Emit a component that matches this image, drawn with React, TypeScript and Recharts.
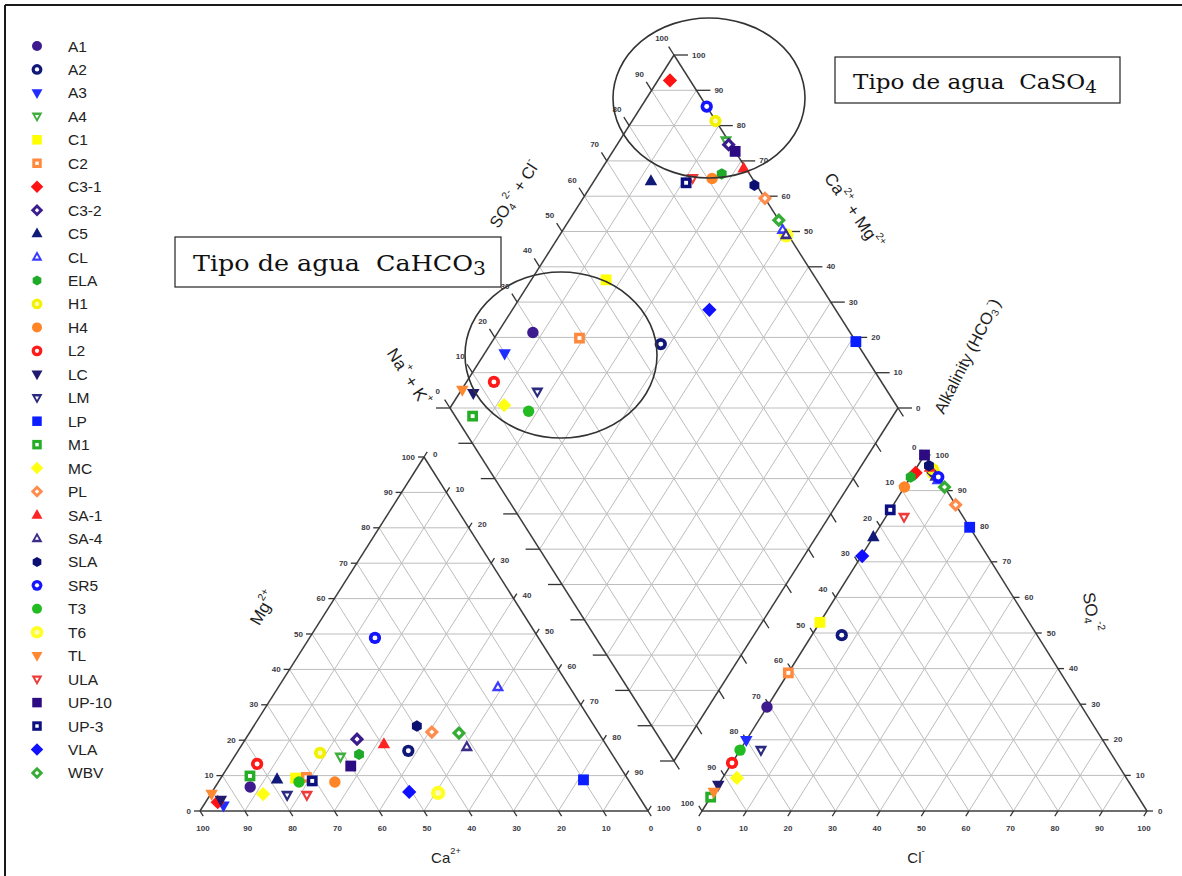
import React from "react";
import { ReferenceLine, Scatter, ScatterChart, XAxis, YAxis } from "recharts";

const WIDTH = 1182;
const HEIGHT = 876;

// samples, in legend order
const sampleNames = [
  "A1", "A2", "A3", "A4", "C1", "C2", "C3-1", "C3-2", "C5", "CL", "ELA", "H1", "H4", "L2", "LC", "LM",
  "LP", "M1", "MC", "PL", "SA-1", "SA-4", "SLA", "SR5", "T3", "T6", "TL", "ULA", "UP-10", "UP-3", "VLA", "WBV"
];
const sampleColors = [
  "#3d1a8e", "#10197a", "#1f2dff", "#3fae3f", "#ffff00", "#ff8a3d", "#ff1212", "#3a1c8c", "#101a78", "#3b3bff",
  "#1faa2a", "#f2f200", "#ff8526", "#ff1a1a", "#201a6e", "#2a2a7e", "#0a1eff", "#25ad25", "#ffff14", "#ff8c4a",
  "#ff2424", "#3b2d8a", "#0b0f72", "#1414ff", "#22bb22", "#ffff22", "#ff8833", "#ee3a3a", "#2d0b82", "#0c0f80",
  "#1010ff", "#35ad35"
];
const sampleMarkers = [
  "circle", "ring", "tri-down", "open-tri-down", "square", "open-square", "diamond", "open-diamond", "tri-up",
  "open-tri-up", "hex", "ring", "circle", "ring", "tri-down", "open-tri-down", "square", "open-square", "diamond",
  "open-diamond", "tri-up", "open-tri-up", "hex", "ring", "circle", "big-ring", "tri-down", "open-tri-down",
  "square", "open-square", "diamond", "open-diamond"
];

// % meq/L
const caPct = [
  85.4, 45, 94, 61, 74, 71.5, 94.8, 54.8, 78.3, 16, 56.5, 65, 65.8, 80.6, 93.8, 78.3,
  10, 83.9, 83.5, 37.1, 49.5, 31.4, 39.6, 36.5, 73.8, 44.3, 95, 73.9, 60, 70.7, 50.6, 31.2
];
const mgPct = [
  6.8, 17, 1.5, 15.3, 9.3, 9.5, 2.5, 20.3, 9, 35, 16, 16.4, 8.2, 13.3, 3.1, 4.5,
  8.8, 9.9, 4.8, 22.3, 18.9, 18.1, 24, 48.9, 8.2, 5.1, 4.8, 4.5, 12.7, 8.5, 5.4, 22
];
const clPct = [
  0, 6.7, 0, 3.5, 0, 0, 0.5, 4.5, 0, 6.5, 0, 3.9, 0, 0, 0, 4.7,
  20.3, 0, 3.2, 14, 3, 5.5, 2.5, 6.2, 0, 4.5, 0, 4.1, 0, 0, 0.2, 9
];
const so4Pct = [
  29.2, 49.4, 19.9, 96, 53, 38.8, 95, 95, 77, 93, 93.8, 96, 91, 13.5, 7.3, 17.1,
  79.7, 3.9, 9.3, 86, 96.5, 94, 97, 93.8, 17.1, 95, 5.3, 82.6, 100, 84.6, 71.6, 91
];
// T6 sits under the other marks in the original plot, so it is painted first
const paintFirst = ["T6"];

const axisTicks = [0, 10, 20, 30, 40, 50, 60, 70, 80, 90, 100];
const gridSteps = [10, 20, 30, 40, 50, 60, 70, 80, 90];

type XY = { x: number; y: number };
type Tri = { a: XY; b: XY; c: XY };

// a = bottom-left corner, b = bottom-right corner, c = top corner
const cationTri: Tri = { a: { x: 200, y: 811 }, b: { x: 648, y: 811 }, c: { x: 424, y: 457 } };
const anionTri: Tri = { a: { x: 702, y: 811 }, b: { x: 1147, y: 811 }, c: { x: 924.5, y: 455 } };
const rhomb = { top: { x: 674, y: 55 }, left: { x: 450, y: 408 }, right: { x: 898, y: 408 }, bottom: { x: 674, y: 761 } };

function bary(t: Tri, wa: number, wb: number, wc: number): XY {
  return {
    x: (wa * t.a.x + wb * t.b.x + wc * t.c.x) / 100,
    y: (wa * t.a.y + wb * t.b.y + wc * t.c.y) / 100
  };
}
const cationXY = (ca: number, mg: number) => bary(cationTri, ca, 100 - ca - mg, mg);
const anionXY = (cl: number, so4: number) => bary(anionTri, 100 - cl - so4, cl, so4);
function rhombXY(caMg: number, so4Cl: number): XY {
  const { bottom, left, right } = rhomb;
  return {
    x: bottom.x + (caMg / 100) * (left.x - bottom.x) + (so4Cl / 100) * (right.x - bottom.x),
    y: bottom.y + (caMg / 100) * (left.y - bottom.y) + (so4Cl / 100) * (right.y - bottom.y)
  };
}
function unit(p: XY, q: XY): XY {
  const dx = q.x - p.x;
  const dy = q.y - p.y;
  const l = Math.hypot(dx, dy);
  return { x: dx / l, y: dy / l };
}
const shift = (p: XY, d: XY, len: number): XY => ({ x: p.x + d.x * len, y: p.y + d.y * len });

type Seg = { p: XY; q: XY; role: "edge" | "grid" | "tick" | "frame" };
type TickLabel = { x: number; y: number; label: string; anchor: "start" | "middle" | "end" };

const segments: Seg[] = [];
const tickLabels: TickLabel[] = [];

function addTriangle(t: Tri) {
  gridSteps.forEach((f) => {
    segments.push({ p: bary(t, 100 - f, 0, f), q: bary(t, 0, 100 - f, f), role: "grid" });
    segments.push({ p: bary(t, f, 100 - f, 0), q: bary(t, f, 0, 100 - f), role: "grid" });
    segments.push({ p: bary(t, 100 - f, f, 0), q: bary(t, 0, f, 100 - f), role: "grid" });
  });
  segments.push({ p: t.a, q: t.b, role: "edge" }, { p: t.b, q: t.c, role: "edge" }, { p: t.c, q: t.a, role: "edge" });
}
addTriangle(cationTri);
addTriangle(anionTri);

// cation axes
const catUpRight = unit(cationTri.a, cationTri.c);
const catDownRight = unit(cationTri.c, cationTri.b);
axisTicks.forEach((v) => {
  const pm = bary(cationTri, 100 - v, 0, v);
  segments.push({ p: pm, q: { x: pm.x - 6, y: pm.y }, role: "tick" });
  tickLabels.push({ x: pm.x - 9, y: pm.y, label: String(v), anchor: "end" });
  const pc = bary(cationTri, v, 100 - v, 0);
  segments.push({ p: pc, q: shift(pc, catDownRight, 6), role: "tick" });
  tickLabels.push({ x: pc.x + 3, y: pc.y + 17, label: String(v), anchor: "middle" });
  const pn = bary(cationTri, 0, v, 100 - v);
  segments.push({ p: pn, q: shift(pn, catUpRight, 6), role: "tick" });
  tickLabels.push({ x: pn.x + 9, y: pn.y - 3, label: String(v), anchor: "start" });
});

// anion axes
const anUpLeft = unit(anionTri.b, anionTri.c);
const anDownLeft = unit(anionTri.c, anionTri.a);
axisTicks.forEach((v) => {
  const ph = bary(anionTri, v, 0, 100 - v);
  segments.push({ p: ph, q: shift(ph, anUpLeft, 6), role: "tick" });
  tickLabels.push({ x: ph.x - 8, y: ph.y - 8, label: String(v), anchor: "end" });
  const ps = bary(anionTri, 0, 100 - v, v);
  segments.push({ p: ps, q: { x: ps.x + 6, y: ps.y }, role: "tick" });
  tickLabels.push({ x: ps.x + 11, y: ps.y, label: String(v), anchor: "start" });
  const pcl = bary(anionTri, 100 - v, v, 0);
  segments.push({ p: pcl, q: shift(pcl, anDownLeft, 6), role: "tick" });
  tickLabels.push({ x: pcl.x - 3, y: pcl.y + 17, label: String(v), anchor: "middle" });
});

// diamond
const rhUpLeft = unit(rhomb.bottom, rhomb.left);
const rhDownRight = { x: -rhUpLeft.x, y: -rhUpLeft.y };
gridSteps.forEach((f) => {
  segments.push({ p: rhombXY(f, 0), q: rhombXY(f, 100), role: "grid" });
  segments.push({ p: rhombXY(0, f), q: rhombXY(100, f), role: "grid" });
});
for (let k = 1; k < 20; k++) {
  const level = k * 10;
  if (level <= 100) segments.push({ p: rhombXY(level, 0), q: rhombXY(0, level), role: "grid" });
  else segments.push({ p: rhombXY(100, level - 100), q: rhombXY(level - 100, 100), role: "grid" });
}
segments.push(
  { p: rhomb.top, q: rhomb.left, role: "edge" },
  { p: rhomb.left, q: rhomb.bottom, role: "edge" },
  { p: rhomb.bottom, q: rhomb.right, role: "edge" },
  { p: rhomb.right, q: rhomb.top, role: "edge" }
);
axisTicks.forEach((v) => {
  const pl = rhombXY(100, v);
  segments.push({ p: pl, q: shift(pl, rhUpLeft, 10), role: "tick" });
  const lp = shift(pl, rhUpLeft, 19);
  tickLabels.push({ x: lp.x - 2, y: lp.y, label: String(v), anchor: "middle" });
  const pr = rhombXY(v, 100);
  segments.push({ p: pr, q: { x: pr.x + 14, y: pr.y }, role: "tick" });
  tickLabels.push({ x: pr.x + 18, y: pr.y, label: String(v), anchor: "start" });
  const pb = rhombXY(v, 0);
  segments.push({ p: pb, q: { x: pb.x - 14, y: pb.y }, role: "tick" });
  const pd = rhombXY(0, v);
  segments.push({ p: pd, q: shift(pd, rhDownRight, 10), role: "tick" });
});

// frame of the figure
segments.push(
  { p: { x: 5, y: 5 }, q: { x: WIDTH, y: 5 }, role: "frame" },
  { p: { x: 5, y: 5 }, q: { x: 5, y: HEIGHT }, role: "frame" }
);

const lineStyle = {
  grid: { stroke: "#bdbdbd", width: 1 },
  edge: { stroke: "#3c3c3c", width: 1.5 },
  tick: { stroke: "#333", width: 1.3 },
  frame: { stroke: "#1a1a1a", width: 2 }
};

type Part = [string, "" | "sup" | "sub"];
type Title = { x: number; y: number; rotate: number; size: number; parts: Part[] };
const axisTitles: Title[] = [
  { x: 263, y: 608, rotate: -60, size: 17, parts: [["Mg", ""], ["2+", "sup"]] },
  { x: 446, y: 857, rotate: 0, size: 15, parts: [["Ca", ""], ["2+", "sup"]] },
  { x: 916, y: 857, rotate: 0, size: 15, parts: [["Cl", ""], ["-", "sup"]] },
  { x: 1092, y: 612, rotate: 80, size: 17, parts: [["SO", ""], ["4", "sub"], ["-2", "sup"]] },
  { x: 514, y: 194, rotate: -57, size: 16.5, parts: [["SO", ""], ["4", "sub"], ["2-", "sup"], [" + Cl", ""], ["-", "sup"]] },
  { x: 854, y: 211, rotate: 55, size: 17, parts: [["Ca", ""], ["2+", "sup"], [" + Mg", ""], ["2+", "sup"]] },
  { x: 409, y: 377, rotate: 57, size: 17, parts: [["Na", ""], ["+", "sup"], [" + K", ""], ["+", "sup"]] },
  { x: 967, y: 356, rotate: -63, size: 16.5, parts: [["Alkalinity (HCO", ""], ["3", "sub"], ["-", "sup"], [")", ""]] }
];

const noteBoxes = [
  { x: 835, y: 57, w: 285, h: 46, tx: 853, ty: 89, size: 21, len: 244, formula: "CaSO", sub: "4" },
  { x: 175, y: 237, w: 326, h: 50, tx: 193, ty: 271, size: 22, len: 293, formula: "CaHCO", sub: "3" }
];
const typeRings = [
  { x: 709, y: 98, rx: 96, ry: 80 },
  { x: 561, y: 355, rx: 96, ry: 83 }
];

const samplePoints = sampleNames.map((name, i) => [
  { ...cationXY(caPct[i], mgPct[i]), name },
  { ...anionXY(clPct[i], so4Pct[i]), name },
  { ...rhombXY(caPct[i] + mgPct[i], clPct[i] + so4Pct[i]), name }
]);
const paintOrder = [
  ...sampleNames.map((_, i) => i).filter((i) => paintFirst.includes(sampleNames[i])),
  ...sampleNames.map((_, i) => i).filter((i) => !paintFirst.includes(sampleNames[i]))
];
const legendRows = sampleNames.map((name, i) => ({ x: 37, y: 46 + i * 23.45, name, i }));

function glyphPath(kind: string, r: number): string {
  if (kind === "tri-up") return `M0 ${-1.2 * r}L${1.1 * r} ${0.75 * r}L${-1.1 * r} ${0.75 * r}Z`;
  if (kind === "tri-down") return `M0 ${1.2 * r}L${1.1 * r} ${-0.75 * r}L${-1.1 * r} ${-0.75 * r}Z`;
  if (kind === "square") {
    const h = 0.95 * r;
    return `M${-h} ${-h}H${h}V${h}H${-h}Z`;
  }
  if (kind === "diamond") {
    const h = 1.25 * r;
    return `M0 ${-h}L${h} 0L0 ${h}L${-h} 0Z`;
  }
  if (kind === "hex") {
    const pts = [0, 1, 2, 3, 4, 5].map((k) => {
      const ang = (Math.PI / 3) * k + Math.PI / 6;
      return `${(r * Math.cos(ang)).toFixed(2)} ${(r * Math.sin(ang)).toFixed(2)}`;
    });
    return `M${pts.join("L")}Z`;
  }
  return `M${-r} 0A${r} ${r} 0 1 0 ${r} 0A${r} ${r} 0 1 0 ${-r} 0Z`;
}

const paleCentre = ["#ffff00", "#f2f200", "#ffff22", "#ffff14"];

function Glyph({ x, y, kind, color, r }: { x: number; y: number; kind: string; color: string; r: number }) {
  const isRing = kind.endsWith("ring");
  const hollow = isRing || kind.startsWith("open-");
  const base = isRing ? "circle" : kind.replace("open-", "");
  const size = kind === "big-ring" ? r * 1.25 : isRing ? r * 1.08 : r;
  const inner = isRing ? size * 0.4 : size * 0.36;
  const innerFill = paleCentre.includes(color) ? "#fbfbc0" : "#ffffff";
  return (
    <g transform={`translate(${x} ${y})`}>
      <path d={glyphPath(base, size)} fill={color} />
      {hollow ? <path d={glyphPath(base, inner)} fill={innerFill} /> : null}
    </g>
  );
}

function TitleText({ t, cx, cy }: { t: Title; cx: number; cy: number }) {
  let offset = 0;
  return (
    <text
      x={cx}
      y={cy}
      transform={`rotate(${t.rotate} ${cx} ${cy})`}
      textAnchor="middle"
      dominantBaseline="central"
      fontFamily="Arial, 'Liberation Sans', sans-serif"
      fontSize={t.size}
      fill="#1e1e1e"
    >
      {t.parts.map(([s, mode], k) => {
        const target = mode === "sup" ? -0.42 * t.size : mode === "sub" ? 0.3 * t.size : 0;
        const dy = target - offset;
        offset = target;
        return (
          <tspan key={k} dy={dy} fontSize={mode ? t.size * 0.62 : t.size}>
            {s}
          </tspan>
        );
      })}
    </text>
  );
}

export default function App() {
  return (
    <div style={{ position: "absolute", left: 0, top: 0, width: WIDTH, height: HEIGHT, background: "#fff" }}>
      <ScatterChart width={WIDTH} height={HEIGHT} margin={{ top: 0, right: 0, bottom: 0, left: 0 }}>
        <XAxis type="number" dataKey="x" domain={[0, WIDTH]} hide allowDataOverflow />
        <YAxis type="number" dataKey="y" domain={[0, HEIGHT]} reversed hide allowDataOverflow />
        {segments.map((s, i) => (
          <ReferenceLine
            key={`seg-${i}`}
            segment={[
              { x: s.p.x, y: s.p.y },
              { x: s.q.x, y: s.q.y }
            ]}
            stroke={lineStyle[s.role].stroke}
            strokeWidth={lineStyle[s.role].width}
            ifOverflow="visible"
          />
        ))}
        <Scatter
          name="tick labels"
          data={tickLabels}
          isAnimationActive={false}
          shape={(props: any) => (
            <text
              x={props.cx}
              y={props.cy}
              textAnchor={props.payload.anchor}
              dominantBaseline="central"
              fontFamily="Arial, 'Liberation Sans', sans-serif"
              fontSize={8}
              fontWeight="bold"
              fill="#3a3a44"
            >
              {props.payload.label}
            </text>
          )}
        />
        {paintOrder.map((i) => (
          <Scatter
            key={sampleNames[i]}
            name={sampleNames[i]}
            data={samplePoints[i]}
            isAnimationActive={false}
            shape={(props: any) => (
              <Glyph x={props.cx} y={props.cy} kind={sampleMarkers[i]} color={sampleColors[i]} r={5.7} />
            )}
          />
        ))}
        <Scatter
          name="type rings"
          data={typeRings}
          isAnimationActive={false}
          shape={(props: any) => (
            <ellipse
              cx={props.cx}
              cy={props.cy}
              rx={props.payload.rx}
              ry={props.payload.ry}
              fill="none"
              stroke="#333"
              strokeWidth={1.6}
            />
          )}
        />
        <Scatter
          name="axis titles"
          data={axisTitles}
          isAnimationActive={false}
          shape={(props: any) => <TitleText t={props.payload} cx={props.cx} cy={props.cy} />}
        />
        <Scatter
          name="notes"
          data={noteBoxes}
          isAnimationActive={false}
          shape={(props: any) => {
            const b = props.payload;
            return (
              <g>
                <rect x={props.cx} y={props.cy} width={b.w} height={b.h} fill="#fff" stroke="#222" strokeWidth={1.2} />
                <text
                  x={b.tx}
                  y={b.ty}
                  fontFamily="'DejaVu Serif', 'Liberation Serif', serif"
                  fontSize={b.size}
                  textLength={b.len}
                  lengthAdjust="spacingAndGlyphs"
                  fill="#111"
                >
                  {"Tipo de agua\u00a0\u00a0" + b.formula}
                  <tspan dy={4} fontSize={b.size * 0.8}>
                    {b.sub}
                  </tspan>
                </text>
              </g>
            );
          }}
        />
        <Scatter
          name="legend"
          data={legendRows}
          isAnimationActive={false}
          shape={(props: any) => {
            const i = props.payload.i;
            return (
              <g>
                <Glyph x={props.cx} y={props.cy} kind={sampleMarkers[i]} color={sampleColors[i]} r={5} />
                <text
                  x={68}
                  y={props.cy}
                  dominantBaseline="central"
                  fontFamily="Arial, 'Liberation Sans', sans-serif"
                  fontSize={15.5}
                  fill="#222"
                >
                  {props.payload.name}
                </text>
              </g>
            );
          }}
        />
      </ScatterChart>
    </div>
  );
}
